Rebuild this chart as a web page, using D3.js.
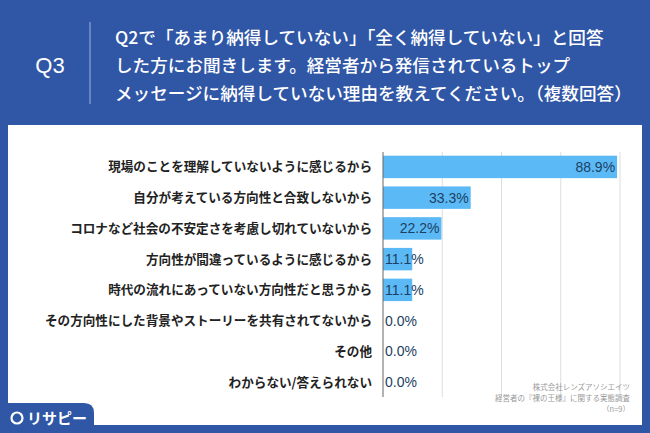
<!DOCTYPE html><html><head><meta charset="utf-8"><script src="https://cdn.jsdelivr.net/npm/d3@7"></script>
<style>body{margin:0}svg{display:block}</style></head><body><script>
const categories=["現場のことを理解していないように感じるから","自分が考えている方向性と合致しないから","コロナなど社会の不安定さを考慮し切れていないから","方向性が間違っているように感じるから","時代の流れにあっていない方向性だと思うから","その方向性にした背景やストーリーを共有されてないから","その他","わからない/答えられない"];
const values=[88.9,33.3,22.2,11.1,11.1,0.0,0.0,0.0];
const gridTicks=[22.5,45,67.5,90];
const titleLines=["Q2で「あまり納得していない」「全く納得していない」と回答","した方にお聞きします。経営者から発信されているトップ","メッセージに納得していない理由を教えてください。（複数回答）"];
const sourceLines=["株式会社レンズアソシエイツ","経営者の『裸の王様』に関する実態調査","（n=9）"];
const W=650,H=433,F="'Noto Sans CJK JP',sans-serif";
const svg=d3.select("body").append("svg").attr("width",W).attr("height",H).style("font-family",F);
svg.append("rect").attr("width",W).attr("height",H).attr("fill","#3056a6");
svg.append("rect").attr("x",8).attr("y",125).attr("width",634).attr("height",300).attr("fill","#fff");
svg.append("text").attr("x",50).attr("y",73).attr("text-anchor","middle").attr("fill","#fff").attr("font-size",22).attr("font-family","'Liberation Sans',sans-serif").attr("font-weight",500).text("Q3");
svg.append("line").attr("x1",90).attr("x2",90).attr("y1",22).attr("y2",104).attr("stroke","#9fb2db").attr("stroke-width",1);
titleLines.forEach((t,i)=>svg.append("text").attr("x",115).attr("y",44+i*28).attr("fill","#fff").attr("font-size",17.6).attr("font-weight",500).text(t));
const x=d3.scaleLinear().domain([0,90]).range([383,620]);
const y=d3.scaleBand().domain(categories).range([152,397]).paddingInner(0.27).paddingOuter(0.12);
gridTicks.forEach(t=>svg.append("line").attr("x1",x(t)).attr("x2",x(t)).attr("y1",152).attr("y2",397).attr("stroke","#ddd"));
svg.selectAll(".b").data(values).join("rect").attr("x",x(0)).attr("y",(d,i)=>y(categories[i])).attr("width",d=>x(d)-x(0)).attr("height",y.bandwidth()).attr("fill","#5bbaf6");
svg.append("line").attr("x1",x(0)).attr("x2",x(0)).attr("y1",152).attr("y2",397).attr("stroke","#666");
svg.selectAll(".l").data(categories).join("text").attr("x",372).attr("y",d=>y(d)+y.bandwidth()/2+4.5).attr("text-anchor","end").attr("font-size",12.6).attr("font-weight",700).attr("fill","#222").text(d=>d);
svg.selectAll(".v").data(values).join("text").attr("font-size",14).attr("font-family","'Liberation Sans',sans-serif").attr("fill","#1d3f63")
 .attr("y",(d,i)=>y(categories[i])+y.bandwidth()/2+5)
 .attr("x",d=>x(d)-x(0)>50?x(d)-2:x(0)+2).attr("text-anchor",d=>x(d)-x(0)>50?"end":"start")
 .text(d=>d.toFixed(1)+"%");
sourceLines.forEach((t,i)=>svg.append("text").attr("x",630).attr("y",390+i*11).attr("text-anchor","end").attr("font-size",7.5).attr("fill","#999").text(t));
svg.append("path").attr("d","M0,403 H84 Q94,403 94,413 V433 H0 Z").attr("fill","#3056a6");
svg.append("circle").attr("cx",17).attr("cy",418).attr("r",5.5).attr("fill","none").attr("stroke","#fff").attr("stroke-width",2.2);
svg.append("text").attr("x",27).attr("y",424).attr("fill","#fff").attr("font-size",15).attr("font-weight",700).text("リサピー");
</script></body></html>
